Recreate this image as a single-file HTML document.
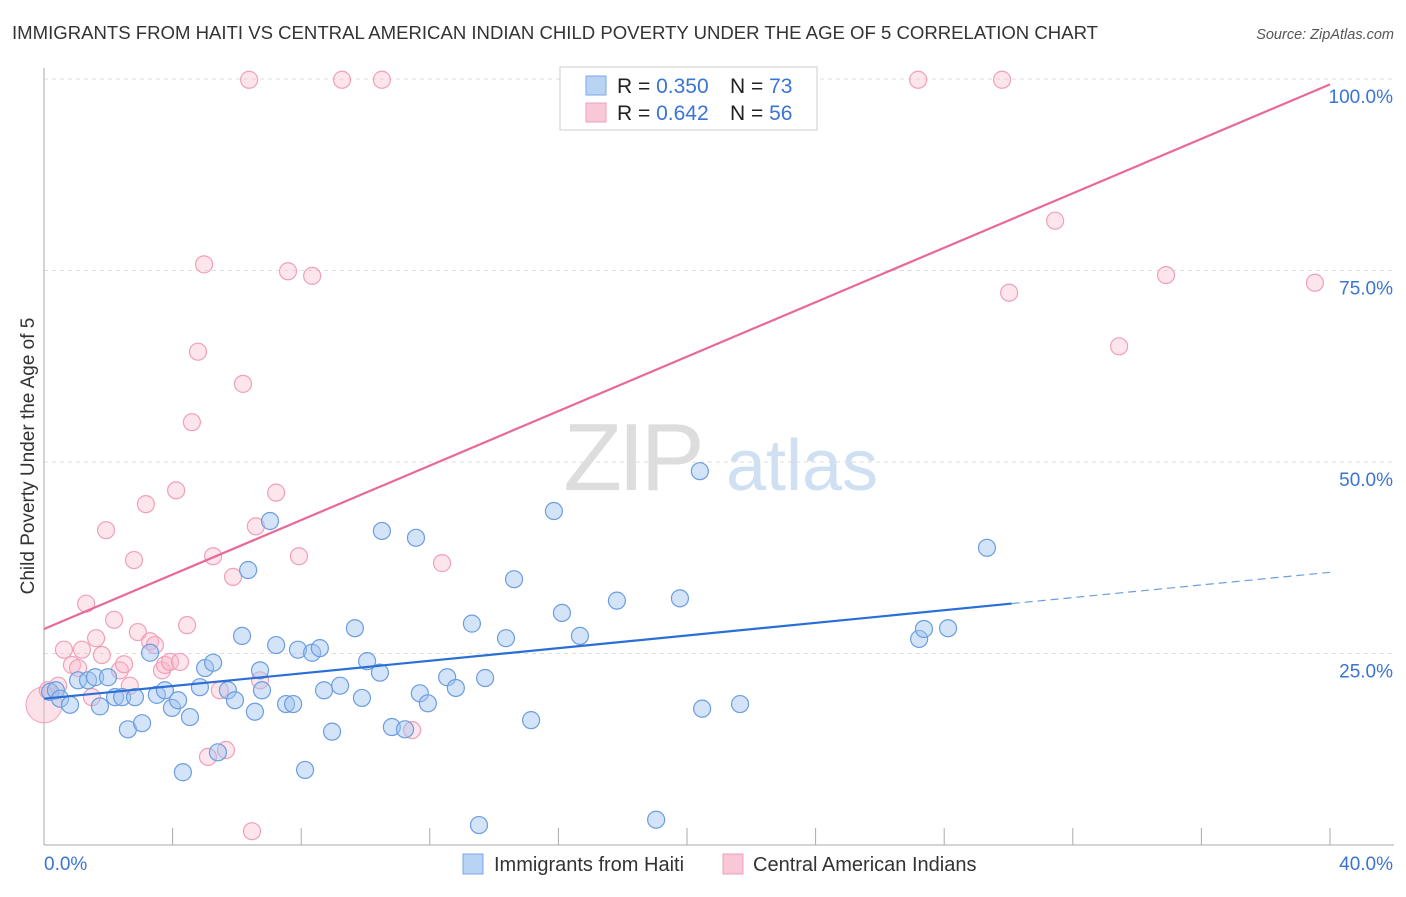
<!DOCTYPE html>
<html><head><meta charset="utf-8"><style>
body{margin:0;background:#fff;font-family:"Liberation Sans",sans-serif;}
svg text{font-family:"Liberation Sans",sans-serif;}
</style></head><body>
<svg id="chart" width="1406" height="892" viewBox="0 0 1406 892" xmlns="http://www.w3.org/2000/svg">
<text x="12" y="39" font-size="18" fill="#333" textLength="1086" lengthAdjust="spacingAndGlyphs">IMMIGRANTS FROM HAITI VS CENTRAL AMERICAN INDIAN CHILD POVERTY UNDER THE AGE OF 5 CORRELATION CHART</text>
<text x="1394" y="39" font-size="14.5" fill="#555" font-style="italic" text-anchor="end">Source: ZipAtlas.com</text>
<g>
<text x="632" y="490" font-size="96" fill="#ddd" font-family="Liberation Serif" text-anchor="middle" letter-spacing="-4">ZIP</text>
<text x="802" y="490" font-size="72" fill="#cfe0f3" text-anchor="middle">atlas</text>
</g>
<g id="grid"></g>
<g id="axes"></g>
<g id="marks"></g>
<text transform="translate(34,456) rotate(-90)" font-size="19" fill="#333" text-anchor="middle">Child Poverty Under the Age of 5</text>
<g>
<rect x="560" y="67" width="257" height="63" fill="#fff" stroke="#ccc"/>
<rect x="586" y="76" width="20" height="19" fill="#b8d3f4" stroke="#7aa8e6"/>
<rect x="586" y="103" width="20" height="19" fill="#f9c8d6" stroke="#f0a0b8"/>
<text x="617" y="93" font-size="21" fill="#222">R = <tspan fill="#3a74d4">0.350</tspan><tspan x="730">N = </tspan><tspan fill="#3a74d4">73</tspan></text>
<text x="617" y="120" font-size="21" fill="#222">R = <tspan fill="#3a74d4"> 0.642</tspan><tspan x="730">N = </tspan><tspan fill="#3a74d4">56</tspan></text>
</g>
<g>
<rect x="463" y="854" width="20" height="20" fill="#b8d3f4" stroke="#7aa8e6"/>
<text x="494" y="871" font-size="20" fill="#333">Immigrants from Haiti</text>
<rect x="723" y="854" width="20" height="20" fill="#f9c8d6" stroke="#f0a0b8"/>
<text x="753" y="871" font-size="20" fill="#333">Central American Indians</text>
</g>
</svg>
<script>
const xTicks=[0,4,8,12,16,20,24,28,32,36,40];
const yTicks=[25,50,75,100];
const yTickLabels=["25.0%","50.0%","75.0%","100.0%"];
const haitiX=[0.19,0.37,0.5,0.81,1.06,1.37,1.59,1.74,1.99,2.21,2.43,2.61,2.83,3.05,3.3,3.51,3.76,3.98,4.17,4.32,4.54,4.85,5.01,5.26,5.41,5.72,5.94,6.16,6.35,6.56,6.72,6.78,7.03,7.22,7.53,7.75,7.9,8.12,8.34,8.58,8.71,8.96,9.21,9.67,9.89,10.05,10.45,10.51,10.82,11.23,11.57,11.69,11.94,12.54,12.81,13.31,13.53,13.72,14.37,14.62,15.15,15.86,16.11,16.67,17.82,19.04,19.78,20.4,20.47,21.65,27.22,27.37,28.12,29.33];
const haitiY=[20.0,20.2,19.1,18.3,21.5,21.5,21.9,18.1,21.9,19.3,19.3,15.1,19.3,15.9,25.1,19.6,20.2,17.9,18.9,9.5,16.7,20.6,23.1,23.8,12.1,20.2,18.9,27.3,35.9,17.4,22.8,20.2,42.3,26.1,18.4,18.4,25.5,9.8,25.1,25.7,20.2,14.8,20.8,28.3,19.2,24.0,22.5,41.0,15.4,15.1,40.1,19.8,18.5,21.9,20.5,28.9,2.6,21.8,27.0,34.7,16.3,43.6,30.3,27.3,31.9,3.3,32.2,48.8,17.8,18.4,26.9,28.2,28.3,38.8];
const caiX=[0.12,0.44,0.62,0.87,1.06,1.18,1.31,1.49,1.62,1.8,1.93,2.18,2.36,2.49,2.67,2.8,2.92,3.17,3.3,3.45,3.67,3.76,3.92,4.11,4.23,4.45,4.6,4.79,4.98,5.1,5.26,5.47,5.66,5.88,6.19,6.38,6.47,6.59,6.72,7.59,7.22,7.93,8.34,9.27,10.51,11.45,12.38,22.89,27.19,29.8,30.02,31.45,33.44,34.9,39.53];
const caiY=[20.2,20.8,25.5,23.5,23.1,25.5,31.5,19.3,27.0,24.8,41.1,29.4,22.8,23.6,20.8,37.2,27.8,44.5,26.6,26.1,22.8,23.5,23.9,46.3,23.9,28.7,55.2,64.4,75.8,11.5,37.7,20.2,12.4,35.0,60.2,99.9,1.8,41.6,21.5,74.9,46.0,37.7,74.3,99.9,99.9,15.0,36.8,99.9,99.9,99.9,72.1,81.5,65.1,74.4,73.4];
const haitiTrend=[19.1,35.6];
const caiTrend=[28.2,99.3];
const X0=44,X1=1330,YB=845,YT=79;
const sx=v=>X0+(v/40)*(X1-X0);
const sy=v=>YB-(v/100)*(YB-YT);
const NS="http://www.w3.org/2000/svg";
function mk(tag,attrs,parent){const e=document.createElementNS(NS,tag);for(const k in attrs)e.setAttribute(k,attrs[k]);parent.appendChild(e);return e;}
const grid=document.getElementById('grid'),axes=document.getElementById('axes'),marks=document.getElementById('marks');
yTicks.forEach((t,i)=>{
 const l=mk('line',{x1:X0,x2:1394,y1:sy(t),y2:sy(t),stroke:'#ddd','stroke-dasharray':'4,4'},grid);
 
 
 const tx=mk('text',{x:1393,y:sy(t)+24,'font-size':19,fill:'#3a74d4','text-anchor':'end'},axes);
 tx.textContent=yTickLabels[i];
 
 
});
mk('line',{x1:X0,x2:X0,y1:68,y2:YB,stroke:'#aaa'},axes);
mk('line',{x1:X0,x2:1394,y1:YB,y2:YB,stroke:'#aaa'},axes);
xTicks.forEach(t=>{
 const l=mk('line',{x1:sx(t),x2:sx(t),y1:828,y2:YB,stroke:'#aaa'},axes);
 
 
});
const xl0=mk('text',{x:44,y:870,'font-size':19,fill:'#3a74d4'},axes);xl0.textContent='0.0%';


const xl1=mk('text',{x:1393,y:870,'font-size':19,fill:'#3a74d4','text-anchor':'end'},axes);xl1.textContent='40.0%';


const big=mk('circle',{cx:sx(0),cy:sy(18.3),r:18,fill:'rgba(248,180,200,0.4)',stroke:'#f0a0b8'},marks);


caiX.forEach((x,i)=>{
 const c=mk('circle',{cx:sx(x),cy:sy(caiY[i]),r:8.5,fill:'rgba(248,180,200,0.35)',stroke:'#f0a0b8','stroke-width':1.2},marks);
 
 
});
haitiX.forEach((x,i)=>{
 const c=mk('circle',{cx:sx(x),cy:sy(haitiY[i]),r:8.5,fill:'rgba(160,196,240,0.45)',stroke:'#6b9de0','stroke-width':1.2},marks);
 
 
});
const hy=x=>haitiTrend[0]+(haitiTrend[1]-haitiTrend[0])*x/40;
const t1=mk('line',{x1:sx(0),y1:sy(hy(0)),x2:sx(30.1),y2:sy(hy(30.1)),stroke:'#2a6fd6','stroke-width':2.2},marks);


const t2=mk('line',{x1:sx(30.1),y1:sy(hy(30.1)),x2:sx(40),y2:sy(hy(40)),stroke:'#6b9de0','stroke-width':1.2,'stroke-dasharray':'8,5'},marks);


const t3=mk('line',{x1:sx(0),y1:sy(caiTrend[0]),x2:sx(40),y2:sy(caiTrend[1]),stroke:'#e8689a','stroke-width':2.2},marks);


</script>
</body></html>
